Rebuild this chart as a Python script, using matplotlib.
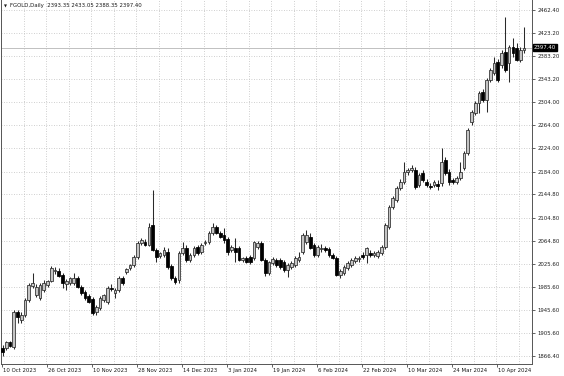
import matplotlib
matplotlib.use("Agg")
from matplotlib import pyplot as plt

# daily candles, FGOLD, 10 Oct 2023 -> 17 Apr 2024
opens = [1880, 1880, 1890, 1882, 1942, 1929, 1937, 1963, 1987, 1972,
         1966, 1980, 1989, 1996, 2012, 2013, 2006, 1990, 1992, 1992,
         2001, 1985, 1977, 1970, 1965, 1942, 1949, 1963, 1959, 1984,
         1975, 1980, 2001, 2011, 2018, 2023, 2037, 2061, 2063, 2058,
         2092, 2049, 2039, 2040, 2046, 2021, 2001, 1997, 2044, 2052,
         2032, 2040, 2054, 2046, 2061, 2063, 2078, 2089, 2078, 2075,
         2068, 2049, 2052, 2052, 2032, 2035, 2037, 2035, 2054, 2061,
         2032, 2009, 2027, 2032, 2032, 2028, 2015, 2020, 2023, 2032,
         2045, 2062, 2071, 2058, 2040, 2050, 2052, 2051, 2040, 2035,
         2006, 2009, 2018, 2023, 2030, 2033, 2040, 2040, 2044, 2041,
         2039, 2044, 2054, 2089, 2123, 2135, 2156, 2166, 2183, 2187,
         2187, 2161, 2182, 2166, 2160, 2161, 2163, 2164, 2204, 2183,
         2169, 2166, 2173, 2190, 2216, 2269, 2285, 2302, 2321, 2307,
         2342, 2354, 2373, 2367, 2390, 2371, 2399, 2397, 2376, 2393.35]
highs = [1885, 1893, 1893, 1946, 1946, 1942, 1966, 1992, 2009, 1990,
         1992, 1997, 1998, 2021, 2020, 2018, 2009, 1999, 2003, 2009,
         2005, 1988, 1980, 1973, 1968, 1955, 1969, 1974, 1987, 1990,
         1983, 2004, 2004, 2018, 2025, 2040, 2064, 2070, 2068, 2095,
         2152, 2052, 2046, 2054, 2052, 2024, 2004, 2047, 2063, 2057,
         2043, 2056, 2057, 2061, 2066, 2081, 2096, 2092, 2081, 2087,
         2071, 2057, 2070, 2055, 2037, 2038, 2040, 2064, 2064, 2064,
         2035, 2030, 2037, 2035, 2035, 2031, 2026, 2030, 2038, 2045,
         2078, 2083, 2078, 2061, 2057, 2060, 2056, 2054, 2043, 2038,
         2016, 2023, 2030, 2035, 2038, 2038, 2045, 2054, 2049, 2047,
         2049, 2058, 2095, 2126, 2142, 2159, 2171, 2200, 2190, 2195,
         2192, 2182, 2186, 2171, 2164, 2169, 2170, 2225, 2210, 2188,
         2173, 2176, 2200, 2219, 2259, 2290, 2306, 2322, 2326, 2345,
         2362, 2381, 2378, 2393, 2450, 2402, 2414, 2405, 2399, 2433.05]
lows = [1866, 1877, 1882, 1879, 1923, 1924, 1934, 1960, 1983, 1968,
        1963, 1976, 1985, 1993, 2008, 2002, 1984, 1980, 1988, 1989,
        1983, 1972, 1963, 1957, 1937, 1937, 1946, 1959, 1956, 1978,
        1966, 1977, 1988, 2008, 2014, 2020, 2034, 2057, 2055, 2055,
        2047, 2028, 2035, 2037, 2017, 1998, 1990, 1992, 2040, 2028,
        2028, 2037, 2041, 2042, 2057, 2060, 2075, 2076, 2069, 2061,
        2040, 2045, 2028, 2030, 2028, 2026, 2025, 2031, 2050, 2030,
        2004, 2006, 2023, 2020, 2016, 2011, 2002, 2016, 2020, 2028,
        2042, 2059, 2050, 2037, 2037, 2045, 2045, 2037, 2033, 2004,
        2001, 2006, 2014, 2020, 2026, 2028, 2033, 2026, 2037, 2037,
        2035, 2040, 2051, 2086, 2119, 2131, 2152, 2162, 2179, 2183,
        2154, 2157, 2166, 2157, 2154, 2157, 2152, 2160, 2178, 2161,
        2162, 2162, 2169, 2186, 2212, 2264, 2281, 2285, 2304, 2287,
        2338, 2350, 2338, 2362, 2355, 2338, 2381, 2374, 2372, 2388.35]
closes = [1873, 1890, 1884, 1942, 1934, 1937, 1963, 1989, 1992, 1985,
          1989, 1992, 1996, 2018, 2015, 2004, 1992, 1995, 2000, 2001,
          1985, 1975, 1966, 1959, 1940, 1951, 1966, 1971, 1984, 1981,
          1980, 2001, 1992, 2016, 2023, 2037, 2061, 2066, 2058, 2089,
          2049, 2037, 2044, 2049, 2020, 2001, 1994, 2044, 2052, 2032,
          2040, 2052, 2044, 2058, 2063, 2078, 2089, 2078, 2072, 2066,
          2045, 2054, 2046, 2032, 2035, 2028, 2028, 2063, 2061, 2032,
          2009, 2028, 2033, 2023, 2020, 2015, 2023, 2027, 2035, 2037,
          2075, 2075, 2052, 2040, 2054, 2052, 2049, 2040, 2035, 2006,
          2013, 2020, 2027, 2032, 2035, 2035, 2037, 2052, 2040, 2044,
          2046, 2054, 2092, 2123, 2138, 2155, 2166, 2183, 2187, 2190,
          2157, 2178, 2170, 2161, 2158, 2166, 2160, 2201, 2182, 2166,
          2166, 2173, 2183, 2216, 2256, 2287, 2302, 2319, 2307, 2342,
          2359, 2371, 2342, 2388, 2359, 2399, 2388, 2376, 2393, 2397.40]

date_labels = ["10 Oct 2023", "26 Oct 2023", "10 Nov 2023", "28 Nov 2023",
               "14 Dec 2023", "3 Jan 2024", "19 Jan 2024", "6 Feb 2024",
               "22 Feb 2024", "10 Mar 2024", "24 Mar 2024", "10 Apr 2024"]
price_ticks = [2462.40, 2423.20, 2383.20, 2343.20, 2304.00, 2264.00, 2224.00,
               2184.00, 2144.80, 2104.80, 2064.80, 2025.60, 1985.60, 1945.60,
               1905.60, 1866.40]
last_price = 2397.40
header = "FGOLD,Daily  2393.35 2433.05 2388.35 2397.40"

FONT = "DejaVu Sans"
FS = 3.9

fig = plt.figure(figsize=(5.64, 3.76), dpi=100)
ax = fig.add_axes([1 / 564, 12 / 376, 531 / 564, 364 / 376])

n = len(opens)
xs = list(range(n))

# grid every 6 bars, labels every 12
for g in range(0, n + 6, 6):
    ax.axvline(g - 0.4, color="#bfbfbf", lw=0.6, ls=(0, (1, 2)), zorder=0)
for p in price_ticks:
    ax.axhline(p, color="#bfbfbf", lw=0.6, ls=(0, (1, 2)), zorder=0)

ax.axhline(last_price, color="#c0c0c0", lw=0.7, zorder=1)

# candles
ax.vlines(xs, lows, highs, color="#2a2a2a", lw=0.75, zorder=2)
for i in xs:
    o, c = opens[i], closes[i]
    bottom = min(o, c)
    h = max(abs(c - o), 0.9)
    if c >= o:
        ax.bar(i, h, bottom=bottom, width=0.72, color="#c4c4c4",
               edgecolor="#2a2a2a", lw=0.55, zorder=3)
    else:
        ax.bar(i, h, bottom=bottom, width=0.72, color="black",
               edgecolor="black", lw=0.55, zorder=3)

ax.set_xlim(-0.4, 141.1)
ax.set_ylim(1852.6, 2479.6)

ax.yaxis.tick_right()
ax.set_yticks(price_ticks)
ax.set_yticklabels([f"{p:.2f}" for p in price_ticks], fontsize=FS,
                   family=FONT)
ax.tick_params(axis="y", length=2.5, width=0.5, pad=1.5, colors="#222222")

ax.set_xticks([12 * k - 0.2 for k in range(len(date_labels))])
ax.set_xticklabels([])
ax.tick_params(axis="x", length=2.5, width=0.5, colors="#222222")
for k, lab in enumerate(date_labels):
    ax.text(12 * k + 0.1, -0.012, lab, transform=ax.get_xaxis_transform(),
            ha="left", va="top", fontsize=FS, family=FONT, color="#1a1a1a")

ax.spines["top"].set_visible(False)
for side in ["left", "right", "bottom"]:
    ax.spines[side].set_linewidth(0.7)
    ax.spines[side].set_color("#555555")

# last price box
ax.text(1.003, last_price, f"{last_price:.2f}", transform=ax.get_yaxis_transform(),
        ha="left", va="center", fontsize=FS, family=FONT, color="white",
        bbox=dict(boxstyle="square,pad=0.15", fc="black", ec="black"),
        zorder=5, clip_on=False)

# header
fig.text(4 / 564, 1 - 6 / 376, "\u25bc", fontsize=2.8, family=FONT,
         va="center", ha="left", color="#1a1a1a")
fig.text(10 / 564, 1 - 6 / 376, header, fontsize=FS, family=FONT,
         va="center", ha="left", color="#1a1a1a")

fig.savefig("out.png", dpi=100, facecolor="white")
